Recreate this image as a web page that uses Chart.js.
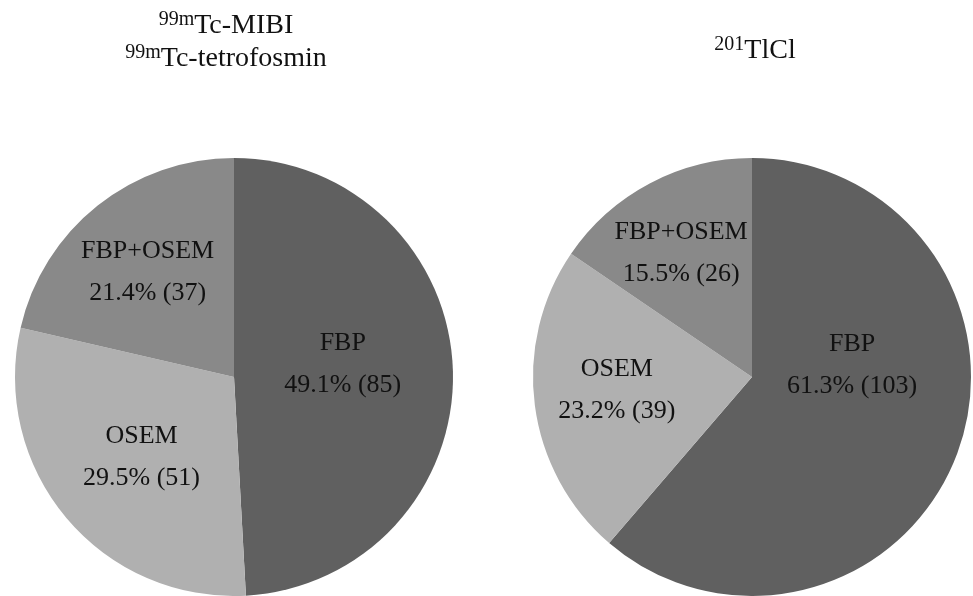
<!DOCTYPE html>
<html>
<head>
<meta charset="utf-8">
<script src="https://cdn.jsdelivr.net/npm/chart.js@4"></script>
<style>
  body { margin: 0; background: #fff; }
  #wrap { position: relative; width: 973px; height: 596px; overflow: hidden; }
  canvas { position: absolute; top: 0; }
  .title {
    position: absolute;
    font-family: "Liberation Serif", "Times New Roman", serif;
    font-size: 28px;
    line-height: 33px;
    color: #111;
    text-align: center;
    white-space: nowrap;
  }
  .title sup { font-size: 20px; line-height: 0; vertical-align: 8px; }
</style>
</head>
<body>
<div id="wrap">
  <canvas id="chartLeft" width="486" height="596" style="left:0px"></canvas>
  <canvas id="chartRight" width="487" height="596" style="left:486px"></canvas>
  <div class="title" style="left:26px; width:400px; top:7px;"><sup>99m</sup>Tc-MIBI<br><sup>99m</sup>Tc-tetrofosmin</div>
  <div class="title" style="left:555px; width:400px; top:32px;"><sup>201</sup>TlCl</div>
</div>
<script>
// 区分
var labels = ["FBP", "OSEM", "FBP+OSEM"];
// 件数
var mibiCounts = [85, 51, 37];
var tlclCounts = [103, 39, 26];
var sliceColors = ["rgb(96, 96, 96)", "rgb(176, 176, 176)", "rgb(137, 137, 137)"];

// ラベル描画（中心角 + 半径比、角度の微調整）
var sliceLabelPlugin = {
  id: "sliceLabel",
  afterDatasetsDraw: function (chart, args, opts) {
    var ctx = chart.ctx;
    var data = chart.data.datasets[0].data;
    var total = data.reduce(function (a, b) { return a + b; }, 0);
    var meta = chart.getDatasetMeta(0);
    ctx.save();
    ctx.font = "26px 'Liberation Serif', 'Times New Roman', serif";
    ctx.fillStyle = "#111";
    ctx.textAlign = "center";
    ctx.textBaseline = "middle";
    meta.data.forEach(function (arc, i) {
      var p = opts.place[i];
      var mid = (arc.startAngle + arc.endAngle) / 2 + (p.da * Math.PI) / 180;
      var r = arc.outerRadius * p.r;
      var x = arc.x + r * Math.cos(mid);
      var y = arc.y + r * Math.sin(mid);
      var pct = ((data[i] / total) * 100).toFixed(1) + "% (" + data[i] + ")";
      ctx.fillText(chart.data.labels[i], x, y - 21);
      ctx.fillText(pct, x, y + 21);
    });
    ctx.restore();
  },
};

function pieConfig(counts, padding, place) {
  return {
    type: "pie",
    data: {
      labels: labels,
      datasets: [
        {
          data: counts,
          backgroundColor: sliceColors,
          borderWidth: 0,
        },
      ],
    },
    options: {
      responsive: false,
      animation: false,
      layout: { padding: padding },
      plugins: {
        legend: { display: false },
        tooltip: { enabled: false },
        sliceLabel: { place: place },
      },
    },
    plugins: [sliceLabelPlugin],
  };
}

var leftConfig = pieConfig(mibiCounts, { left: 15, right: 33, top: 158, bottom: 0 }, [
  { r: 0.5, da: -5 },
  { r: 0.56, da: -1 },
  { r: 0.62, da: -1 },
]);
var rightConfig = pieConfig(tlclCounts, { left: 47, right: 2, top: 158, bottom: 0 }, [
  { r: 0.46, da: -27 },
  { r: 0.62, da: 2 },
  { r: 0.65, da: -2 },
]);

function generateChart(config, canvasId) {
  var canvas = document.getElementById(canvasId);
  return new Chart(canvas, config);
}

generateChart(leftConfig, "chartLeft");
generateChart(rightConfig, "chartRight");
</script>
</body>
</html>
